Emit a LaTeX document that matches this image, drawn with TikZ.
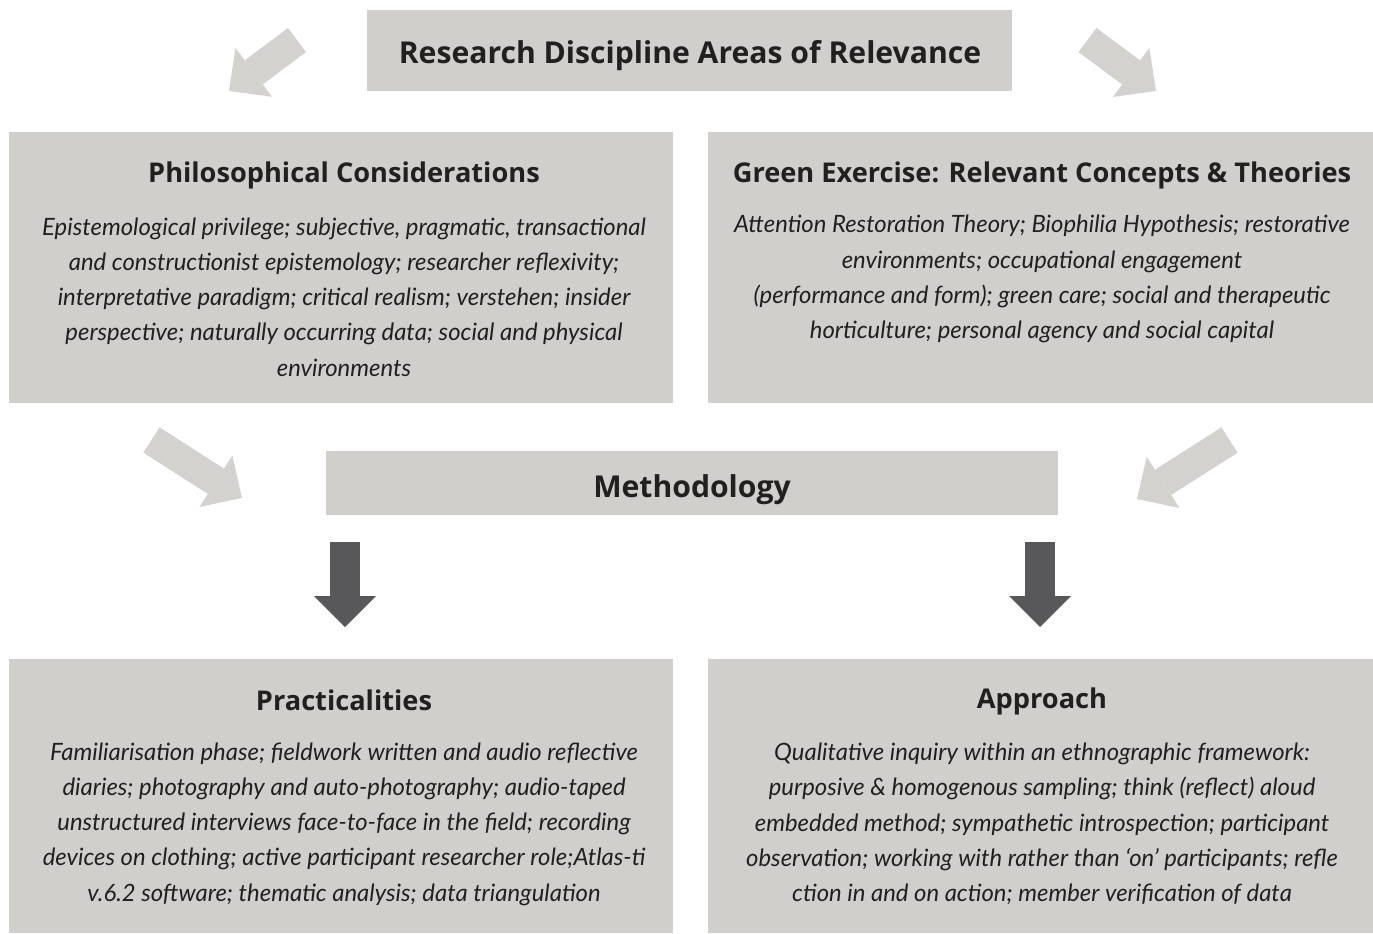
\documentclass[tikz,border=0pt]{standalone}
\usepackage{fontspec}
\setmainfont{Lato}
\newfontfamily\headfont{Open Sans}
\usetikzlibrary{arrows.meta,positioning}

\definecolor{panelgray}{HTML}{D0CFCC}
\definecolor{arrowgray}{HTML}{D3D2CF}
\definecolor{darkarrow}{HTML}{58585A}
\definecolor{inkgray}{HTML}{231F20}

\tikzset{
  panel/.style={fill=panelgray, inner sep=0pt},
  headtext/.style={font=\headfont\bfseries\fontsize{20.4}{24}\selectfont, text=inkgray},
  bighead/.style={font=\headfont\bfseries\fontsize{22.6}{26}\selectfont, text=inkgray},
  bodytext/.style={font=\itshape\fontsize{17.9}{26.4}\selectfont, align=center, text=inkgray},
  lightarrow/.style={draw=arrowgray, line width=22.5pt,
    -{Triangle[width=45.75pt,length=23.25pt,line width=0pt]}},
  darkarrow/.style={draw=darkarrow, line width=22.5pt,
    -{Triangle[width=46.5pt,length=23.25pt,line width=0pt]}}
}

\begin{document}
\begin{tikzpicture}[x=0.75pt,y=-0.75pt]
        \useasboundingbox (0,0) rectangle (1373,934);

        % Grey panels
        \node[panel, minimum width=483.75pt, minimum height=60.75pt] (areas) at (689.5,50.5) {};
        \node[panel, minimum width=498pt, minimum height=203.25pt] (phil) at (341,267.5) {};
        \node[panel, minimum width=498.75pt, minimum height=203.25pt] (green) at (1040.5,267.5) {};
        \node[panel, minimum width=549pt, minimum height=48pt] (meth) at (692,483) {};
        \node[panel, minimum width=498pt, minimum height=205.5pt] (pract) at (341,796) {};
        \node[panel, minimum width=498.75pt, minimum height=205.5pt] (appr) at (1040.5,796) {};

        % Headings
        \node[bighead] (areasT) at (690,56) {Research Discipline Areas of Relevance};
        \node[headtext] (philT) at (344,175) {Philosophical Considerations};
        \node[headtext] (greenT) at (1042,175) {Green Exercise: Relevant Concepts \& Theories};
        \node[bighead] (methT) at (692,490) {Methodology};
        \node[headtext] (practT) at (344,700) {Practicalities};
        \node[headtext] (apprT) at (1042,701) {Approach};

        % Body texts
        \node[bodytext] (philB) at (344,297) {Epistemological privilege; subjective, pragmatic, transactional\\
            and constructionist epistemology; researcher reflexivity;\\
            interpretative paradigm; critical realism; verstehen; insider\\
            perspective; naturally occurring data; social and physical\\
            environments};
        \node[bodytext] (greenB) at (1042,279) {Attention Restoration Theory; Biophilia Hypothesis; restorative\\
            environments; occupational engagement\\
            (performance and form); green care; social and therapeutic\\
            horticulture; personal agency and social capital};
        \node[bodytext] (practB) at (344,824) {Familiarisation phase; fieldwork written and audio reflective\\
            diaries; photography and auto-photography; audio-taped\\
            unstructured interviews face-to-face in the field; recording\\
            devices on clothing; active participant researcher role;Atlas-ti\\
            v.6.2 software; thematic analysis; data triangulation};
        \node[bodytext] (apprB) at (1042,824) {Qualitative inquiry within an ethnographic framework:\\
            purposive \& homogenous sampling; think (reflect) aloud\\
            embedded method; sympathetic introspection; participant\\
            observation; working with rather than `on' participants; refle\\
            ction in and on action; member verification of data};

        % Arrow ends
        \coordinate (tlS) at (297,40);     \coordinate (tlE) at (229,91);
        \coordinate (trS) at (1087.5,40);  \coordinate (trE) at (1156,91);
        \coordinate (mlS) at (151.5,440);  \coordinate (mlE) at (242,498);
        \coordinate (mrS) at (1229.5,440); \coordinate (mrE) at (1137,499);
        \coordinate (dlS) at (345,542);    \coordinate (dlE) at (345,627);
        \coordinate (drS) at (1040,542);   \coordinate (drE) at (1040,627);

        % Light arrows into and out of the panels
        \foreach \from/\to in {tlS/tlE, trS/trE, mlS/mlE, mrS/mrE} {
            \draw[lightarrow] (\from) -- (\to);
        }

        % Dark arrows down from methodology
        \foreach \from/\to in {dlS/dlE, drS/drE} {
            \draw[darkarrow] (\from) -- (\to);
        }
\end{tikzpicture}
\end{document}
